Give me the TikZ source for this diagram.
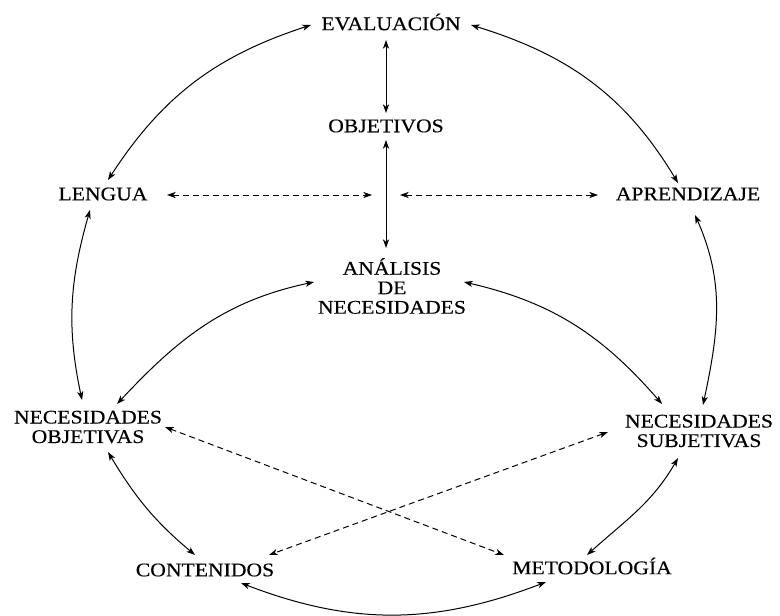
\documentclass[tikz,border=0pt]{standalone}
\usepackage{fontspec}
\setmainfont[FakeStretch=1.12,FakeBold=0.3]{Liberation Serif}
\usetikzlibrary{arrows.meta}
\begin{document}
\begin{tikzpicture}[x=0.75pt,y=0.75pt,
  lbl/.style={font=\fontsize{14.5}{14.6}\selectfont, inner sep=0pt, align=center},
  link/.style={line width=0.75pt, {Stealth[length=6.5pt,width=4.6pt,inset=1.8pt]}-{Stealth[length=6.5pt,width=4.6pt,inset=1.8pt]}},
  dlink/.style={link, dash pattern=on 4.5pt off 3pt}]
\fill[white] (0,0) rectangle (780,615);
\useasboundingbox (0,0) rectangle (780,615);
% nodes
\node[lbl] (ev)   at (391,593) {EVALUACIÓN};
\node[lbl] (obj)  at (386,489) {OBJETIVOS};
\node[lbl] (len)  at (103,421) {LENGUA};
\node[lbl] (apr)  at (688,421) {APRENDIZAJE};
\node[lbl] (ana)  at (392,329) {ANÁLISIS\\DE\\NECESIDADES};
\node[lbl] (nobj) at (88,188)  {NECESIDADES\\OBJETIVAS};
\node[lbl] (nsub) at (699,184) {NECESIDADES\\SUBJETIVAS};
\node[lbl] (cont) at (205,45)  {CONTENIDOS};
\node[lbl] (met)  at (592,49)  {METODOLOGÍA};
\coordinate (vl) at (372,420);
\coordinate (vr) at (400,420);
% outer arcs
\draw[link] ([shift={(-80,-3)}]ev.center) to[out=198,in=57] ([shift={(5,14)}]len.center);
\draw[link] ([shift={(80,-3)}]ev.center) to[out=-17,in=121] ([shift={(-10,11)}]apr.center);
\draw[link] ([shift={(-13,-16)}]len.center) to[out=254,in=102] ([shift={(-6,27)}]nobj.center);
\draw[link] ([shift={(7,-21)}]apr.center) to[out=294,in=78] ([shift={(4,26)}]nsub.center);
\draw[link] ([shift={(20,-25)}]nobj.center) to[out=-59,in=140] ([shift={(-10,15)}]cont.center);
\draw[link] ([shift={(-21,-27)}]nsub.center) to[out=240,in=42] ([shift={(-5,11)}]met.center);
\draw[link] ([shift={(36,-13)}]cont.center) to[out=-21,in=201] ([shift={(-46,-16)}]met.center);
% inner arcs
\draw[link] ([shift={(-78,4)}]ana.center) to[out=192,in=47] ([shift={(29,23)}]nobj.center);
\draw[link] ([shift={(72,4)}]ana.center) to[out=-13,in=131] ([shift={(-37,27)}]nsub.center);
% vertical axis
\draw[link] ([shift={(-5,-18)}]ev.center) -- ([shift={(0,13)}]obj.center);
\draw[link] ([shift={(0,-14)}]obj.center) -- ([shift={(-6,38)}]ana.center);
% dashed
\draw[dlink] ([shift={(64,-1)}]len.center) -- (vl);
\draw[dlink] (vr) -- ([shift={(-90,-1)}]apr.center);
\draw[dlink] ([shift={(77,0)}]nobj.center) -- ([shift={(-88,11)}]met.center);
\draw[dlink] ([shift={(-91,-1)}]nsub.center) -- ([shift={(64,15)}]cont.center);
\end{tikzpicture}
\end{document}
